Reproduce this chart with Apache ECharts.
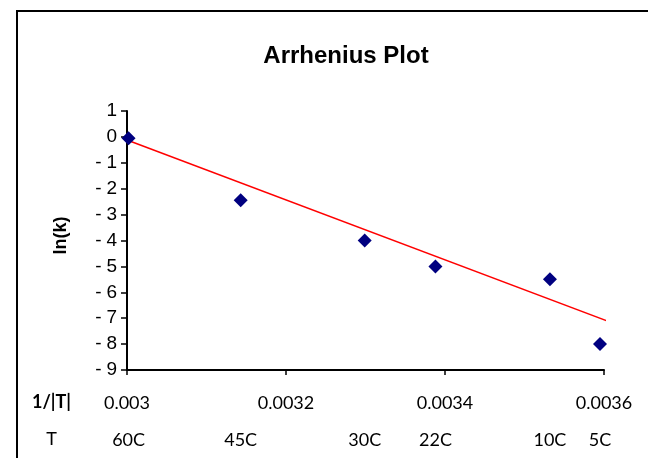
<!DOCTYPE html>
<html>
<head>
<meta charset="utf-8">
<title>Arrhenius Plot</title>
<script src="https://cdn.jsdelivr.net/npm/echarts@6/dist/echarts.min.js"></script>
<style>
  html, body { margin: 0; padding: 0; background: #fff; }
  #chart { width: 648px; height: 458px; }
</style>
</head>
<body>
<div id="chart"></div>
<script>
// Measured points: 1/T (1/K) against ln(k)
const invT = [0.003002, 0.003143, 0.003299, 0.003388, 0.003532, 0.003595];
const lnK = [-0.05, -2.45, -4.0, -5.0, -5.5, -8.0];

// Temperatures written under each point
const tempLabels = ['60C', '45C', '30C', '22C', '10C', '5C'];

// Linear trend line, start and end
const trendX = [0.003, 0.003605];
const trendY = [-0.12, -7.12];

// Axis ranges and ticks
const xMin = 0.003, xMax = 0.0036, xStep = 0.0002;
const yMin = -9, yMax = 1, yStep = 1;

const chart = echarts.init(document.getElementById('chart'), null, { renderer: 'canvas' });

const pointData = invT.map((x, i) => [x, lnK[i]]);
const trendData = trendX.map((x, i) => [x, trendY[i]]);

const axisFont = { fontFamily: 'Liberation Sans, Arial, sans-serif', fontSize: 19, color: '#000' };
const cellFont = { fontFamily: 'Lato, sans-serif', fontSize: 18, color: '#000' };

chart.setOption({
  backgroundColor: '#fff',
  animation: false,
  title: {
    text: 'Arrhenius Plot',
    left: 346,
    top: 44,
    padding: 0,
    textAlign: 'center',
    textStyle: { fontFamily: 'Liberation Sans, Arial, sans-serif', fontSize: 24, fontWeight: 'bold', color: '#000' }
  },
  graphic: [{
    type: 'rect',
    silent: true,
    shape: { x: 17, y: 11, width: 700, height: 500 },
    style: { fill: 'none', stroke: '#000', lineWidth: 2 }
  }],
  grid: {
    left: 127, top: 111, right: 44, bottom: 88,
    containLabel: false,
    outerBoundsMode: 'none'
  },
  xAxis: [{
    type: 'value',
    min: xMin, max: xMax, interval: xStep,
    // row headers: reciprocal temperature and temperature
    name: '{h|1/|T|}\n{t|T}',
    nameLocation: 'start',
    nameGap: 50,
    nameTextStyle: Object.assign({}, cellFont, {
      verticalAlign: 'top',
      padding: [14, 0, 0, 0],
      rich: {
        h: Object.assign({}, cellFont, { fontWeight: 'bold', width: 40, align: 'center', lineHeight: 37 }),
        t: Object.assign({}, cellFont, { width: 51, align: 'center', lineHeight: 37 })
      }
    }),
    axisLine: { onZero: false, lineStyle: { color: '#000', width: 2 } },
    axisTick: { show: true, inside: false, length: 5, lineStyle: { color: '#000', width: 1.5 } },
    axisLabel: Object.assign({}, cellFont, { margin: 24 }),
    splitLine: { show: false }
  }, {
    type: 'value',
    position: 'bottom',
    offset: 37,
    min: xMin, max: xMax,
    axisLine: { show: false },
    axisTick: { show: false },
    axisLabel: Object.assign({}, cellFont, {
      margin: 24,
      customValues: invT,
      formatter: function (v) {
        let best = 0;
        for (let i = 1; i < invT.length; i++) {
          if (Math.abs(invT[i] - v) < Math.abs(invT[best] - v)) best = i;
        }
        return tempLabels[best];
      }
    }),
    splitLine: { show: false }
  }],
  yAxis: {
    type: 'value',
    min: yMin, max: yMax, interval: yStep,
    name: 'ln(k)',
    nameLocation: 'middle',
    nameGap: 57,
    nameRotate: 90,
    nameTextStyle: { fontFamily: 'Liberation Sans, Arial, sans-serif', fontSize: 18, fontWeight: 'bold', color: '#000', padding: [0, 0, 0, 10] },
    axisLine: { onZero: false, lineStyle: { color: '#000', width: 2 } },
    axisTick: { show: true, inside: false, length: 6, lineStyle: { color: '#000', width: 1.5 } },
    axisLabel: Object.assign({}, axisFont, {
      margin: 10,
      formatter: function (v) { return v < 0 ? '-\u2005' + Math.abs(v) : String(v); }
    }),
    splitLine: { show: false }
  },
  series: [{
    name: 'trend',
    type: 'line',
    data: trendData,
    xAxisIndex: 0,
    symbol: 'none',
    lineStyle: { color: '#ff0000', width: 1.5 },
    z: 2
  }, {
    name: 'ln(k)',
    type: 'scatter',
    data: pointData,
    xAxisIndex: 0,
    symbol: 'diamond',
    symbolSize: 14,
    itemStyle: { color: '#000080', opacity: 1 },
    z: 3
  }]
});
</script>
</body>
</html>
